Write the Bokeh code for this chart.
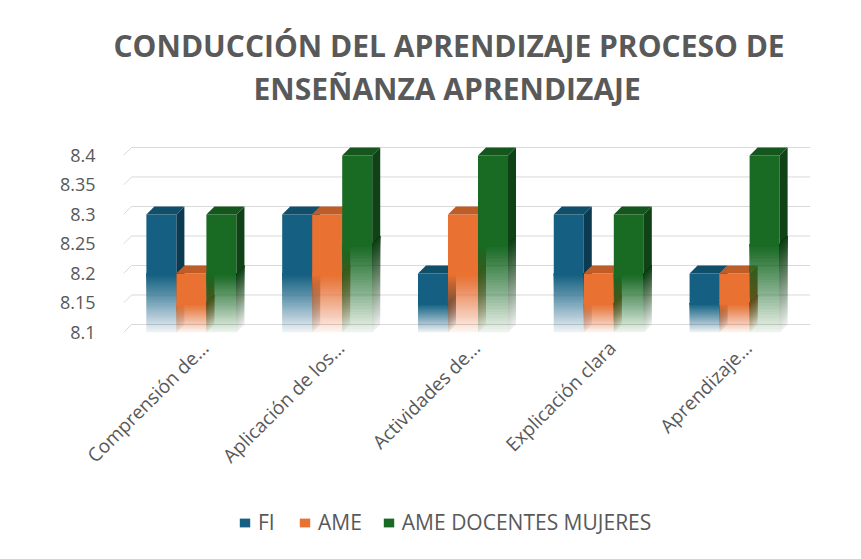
import math
from bokeh.plotting import figure
from bokeh.layouts import column
from bokeh.models import Range1d, FixedTicker, Legend, LegendItem, Title
from bokeh.embed import file_html
from bokeh.resources import INLINE

# ---- data ----
categories = ["Comprensión de…", "Aplicación de los…", "Actividades de…",
              "Explicación clara", "Aprendizaje…"]
series_names = ["FI", "AME", "AME DOCENTES MUJERES"]
fi = [8.3, 8.3, 8.2, 8.3, 8.2]
ame = [8.2, 8.3, 8.3, 8.2, 8.2]
ame_docentes = [8.3, 8.4, 8.4, 8.3, 8.4]
y_ticks = [8.1, 8.15, 8.2, 8.25, 8.3, 8.35, 8.4]
y_tick_labels = ["8.1", "8.15", "8.2", "8.25", "8.3", "8.35", "8.4"]
title_lines = ["CONDUCCIÓN DEL APRENDIZAJE PROCESO DE", "ENSEÑANZA APRENDIZAJE"]
base_value = 8.1

# ---- styles ----
front_colors = ["#156082", "#E97132", "#196B24"]
top_colors = ["#114e6a", "#bf5d29", "#14561d"]
side_colors = ["#0c3b51", "#9a4a20", "#0f4216"]
TXT = "#595959"
FONT = "Open Sans"
W = 853
DX = 0.059      # depth offset (category units)
DY = 0.0136     # depth offset (value units)
BAR_W = 0.221
N = 30
EPS = 0.003


def bare(fig):
    fig.outline_line_color = None
    fig.xgrid.visible = False
    fig.ygrid.visible = False
    fig.background_fill_color = "white"
    fig.border_fill_color = "white"


# ---------- main chart ----------
p = figure(width=W, height=501, x_range=Range1d(0, 5.059),
           y_range=Range1d(8.1, 8.4254), output_backend="svg",
           toolbar_location=None, title=None,
           min_border_left=123, min_border_right=43,
           min_border_top=140, min_border_bottom=169)
bare(p)

# title: spacer closest to the plot, then line 2, then line 1
p.add_layout(Title(text=" ", text_font_size="1px", standoff=29), "above")
p.add_layout(Title(text=title_lines[1], align="left", offset=130, standoff=0,
                   text_font=FONT, text_font_style="bold", text_font_size="30px",
                   text_color=TXT), "above")
p.add_layout(Title(text=title_lines[0], align="left", offset=-10, standoff=0,
                   text_font=FONT, text_font_style="bold", text_font_size="30px",
                   text_color=TXT), "above")

# 3D back-wall gridlines
gx = [[0, DX, len(categories) + DX] for _ in y_ticks]
gy = [[t, t + DY, t + DY] for t in y_ticks]
p.multi_line(gx, gy, line_color="#d9d9d9", line_width=1)

# cumulative alpha steps for gradient (bottom faint -> opaque at mid height)
targets = [0.08 + 0.92 * k / (N - 1) for k in range(N)]
step_alpha = []
prev = 0.0
for A in targets:
    a = 1 - (1 - A) / (1 - prev) if prev < 1 else 1.0
    step_alpha.append(min(max(a, 0.0), 1.0))
    prev = A

for i, vals in enumerate([fi, ame, ame_docentes]):
    x0s = [j + 0.5 - 1.5 * BAR_W + i * BAR_W for j in range(len(vals))]
    L, R, B, T = [], [], [], []
    fl, fr, fb, ft, fa = [], [], [], [], []
    sxs, sys_, sa = [], [], []
    txs, tys = [], []
    for x0, v in zip(x0s, vals):
        x1 = x0 + BAR_W
        mid = base_value + 0.5 * (v - base_value)
        L.append(x0); R.append(x1); B.append(mid - EPS); T.append(v)
        sxs.append([x1, x1 + DX, x1 + DX, x1])
        sys_.append([mid - EPS, mid - EPS + DY, v + DY, v])
        sa.append(1.0)
        for k in range(N):
            yk = base_value + (mid - base_value) * k / N
            fl.append(x0); fr.append(x1); fb.append(yk); ft.append(mid); fa.append(step_alpha[k])
            sxs.append([x1, x1 + DX, x1 + DX, x1])
            sys_.append([yk, yk + DY, mid + DY, mid])
            sa.append(step_alpha[k])
        txs.append([x0, x1, x1 + DX, x0 + DX])
        tys.append([v, v, v + DY, v + DY])
    p.quad(left=fl, right=fr, bottom=fb, top=ft, fill_color=front_colors[i],
           fill_alpha=fa, line_color=None)
    p.quad(left=L, right=R, bottom=B, top=T, fill_color=front_colors[i], line_color=None)
    p.patches(sxs, sys_, fill_color=side_colors[i], fill_alpha=sa, line_color=None)
    p.patches(txs, tys, fill_color=top_colors[i], line_color=None)

# y axis
p.yaxis.ticker = FixedTicker(ticks=y_ticks)
p.yaxis.major_label_overrides = {t: s for t, s in zip(y_ticks, y_tick_labels)}
p.yaxis.axis_line_color = None
p.yaxis.major_tick_line_color = None
p.yaxis.minor_tick_line_color = None
p.yaxis.major_label_standoff = 22
p.yaxis.major_label_text_font_size = "18px"
p.yaxis.major_label_text_color = TXT
p.yaxis.major_label_text_font = FONT

# x axis
centers = [j + 0.5 + 0.1 for j in range(len(categories))]
p.xaxis.ticker = FixedTicker(ticks=centers)
p.xaxis.major_label_overrides = {c: n for c, n in zip(centers, categories)}
p.xaxis.major_label_orientation = math.pi / 4
p.xaxis.axis_line_color = None
p.xaxis.major_tick_line_color = None
p.xaxis.minor_tick_line_color = None
p.xaxis.major_label_standoff = 6
p.xaxis.major_label_text_font_size = "19px"
p.xaxis.major_label_text_color = TXT
p.xaxis.major_label_text_font = FONT

# ---------- legend strip ----------
lfig = figure(width=W, height=50, x_range=Range1d(0, 1), y_range=Range1d(0, 1),
              output_backend="svg", toolbar_location=None, title=None,
              x_axis_location=None, y_axis_location=None,
              min_border=0, min_border_left=0, min_border_right=0,
              min_border_top=0, min_border_bottom=0)
bare(lfig)
items = []
for name, c in zip(series_names, front_colors):
    # glyph kept outside the visible range: only its legend swatch shows
    r = lfig.quad(left=[5], right=[6], bottom=[5], top=[6], fill_color=c, line_color=None)
    items.append(LegendItem(label=name, renderers=[r]))
legend = Legend(items=items, location=(115, 15), orientation="horizontal",
                padding=0, margin=0, border_line_color=None,
                background_fill_alpha=0, label_text_font_size="21px",
                label_text_color=TXT, label_text_font=FONT,
                glyph_width=13, glyph_height=11, label_standoff=7, spacing=20)
lfig.add_layout(legend)

layout = column(p, lfig, spacing=0)
open("out.html", "w").write(file_html(layout, INLINE))
